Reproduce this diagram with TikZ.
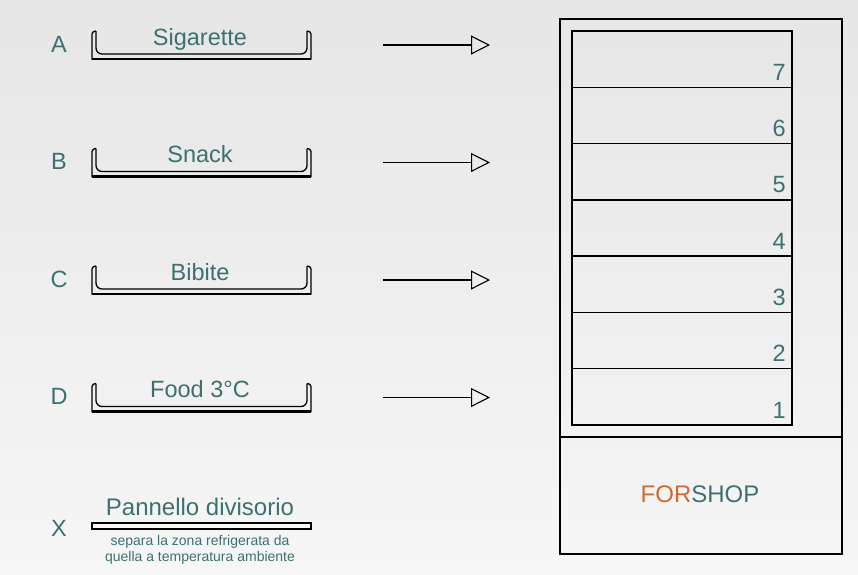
\documentclass[tikz,border=0pt]{standalone}
\usepackage{fontspec}
\setmainfont{Liberation Sans}
\usetikzlibrary{arrows.meta}
\definecolor{tealtxt}{HTML}{3D7170}
\definecolor{orng}{HTML}{CF6A2C}
\definecolor{bgtop}{HTML}{E6E6E6}
\definecolor{bgbot}{HTML}{F6F6F6}
\begin{document}
\begin{tikzpicture}[x=1pt,y=-1pt,
  bigtxt/.style={text=tealtxt,font=\fontsize{23.5}{28}\selectfont,inner sep=0pt},
  smalltxt/.style={text=tealtxt,font=\fontsize{14}{16}\selectfont,inner sep=0pt},
  trayline/.style={draw=black,line width=1.3pt},
  flow/.style={draw=black,line width=1.1pt,-{Triangle[open,length=19pt,width=19pt,line width=1.1pt]}},
  frame/.style={draw=black,line width=1.4pt}]
\useasboundingbox (0,0) rectangle (858,574);
\fill[top color=bgtop,bottom color=bgbot] (0,0) rectangle (858,574);
% trays
\foreach \L/\T/\y [count=\i] in {A/Sigarette/31,B/Snack/148.5,C/Bibite/266,D/Food 3°C/383.5}{
  \node[bigtxt] (lab\i) at (59,\y+13) {\L};
  \draw[trayline] (96,\y) .. controls (94,\y) and (92,\y+1) .. (92,\y+3) -- (92,\y+28) -- (311,\y+28) -- (311,\y+3) .. controls (311,\y+1) and (309,\y) .. (307,\y);
  \draw[trayline,rounded corners=6pt] (96,\y) -- (96,\y+23) -- (307,\y+23) -- (307,\y);
  \draw[line width=2.2pt] (92,\y+28) -- (311,\y+28);
  \node[bigtxt,anchor=base] (txt\i) at (200,\y+14) {\T};
  \coordinate (s\i) at (383,\y+14);
  \coordinate (e\i) at (490,\y+14);
  \draw[flow] (s\i) -- (e\i);
}
% panel X
\node[bigtxt] (labX) at (59,528) {X};
\draw[line width=1.3pt,fill=bgbot] (92,523) rectangle (311,529);
\node[bigtxt,font=\fontsize{24}{28}\selectfont,anchor=base] (pan) at (200,515) {Pannello divisorio};
\node[smalltxt,anchor=base] (pan1) at (200,545) {separa la zona refrigerata da};
\node[smalltxt,anchor=base] (pan2) at (200,561) {quella a temperatura ambiente};
% cabinet
\draw[frame] (560,19) rectangle (842,554);
\draw[frame] (560,437) -- (842,437);
\draw[frame] (572,31) rectangle (792,425);
\foreach \k in {1,...,6}{
  \draw[frame] (572,{31+\k*56.2857}) -- (792,{31+\k*56.2857});
}
\foreach \k in {1,...,7}{
  \node[bigtxt,anchor=base east] (n\k) at (786,{425-(\k-1)*56.2857-7}) {\k};
}
\node[text=tealtxt,font=\fontsize{24}{28}\selectfont,inner sep=0pt] (brand) at (700,494) {\textcolor{orng}{FOR}SHOP};
\end{tikzpicture}
\end{document}
